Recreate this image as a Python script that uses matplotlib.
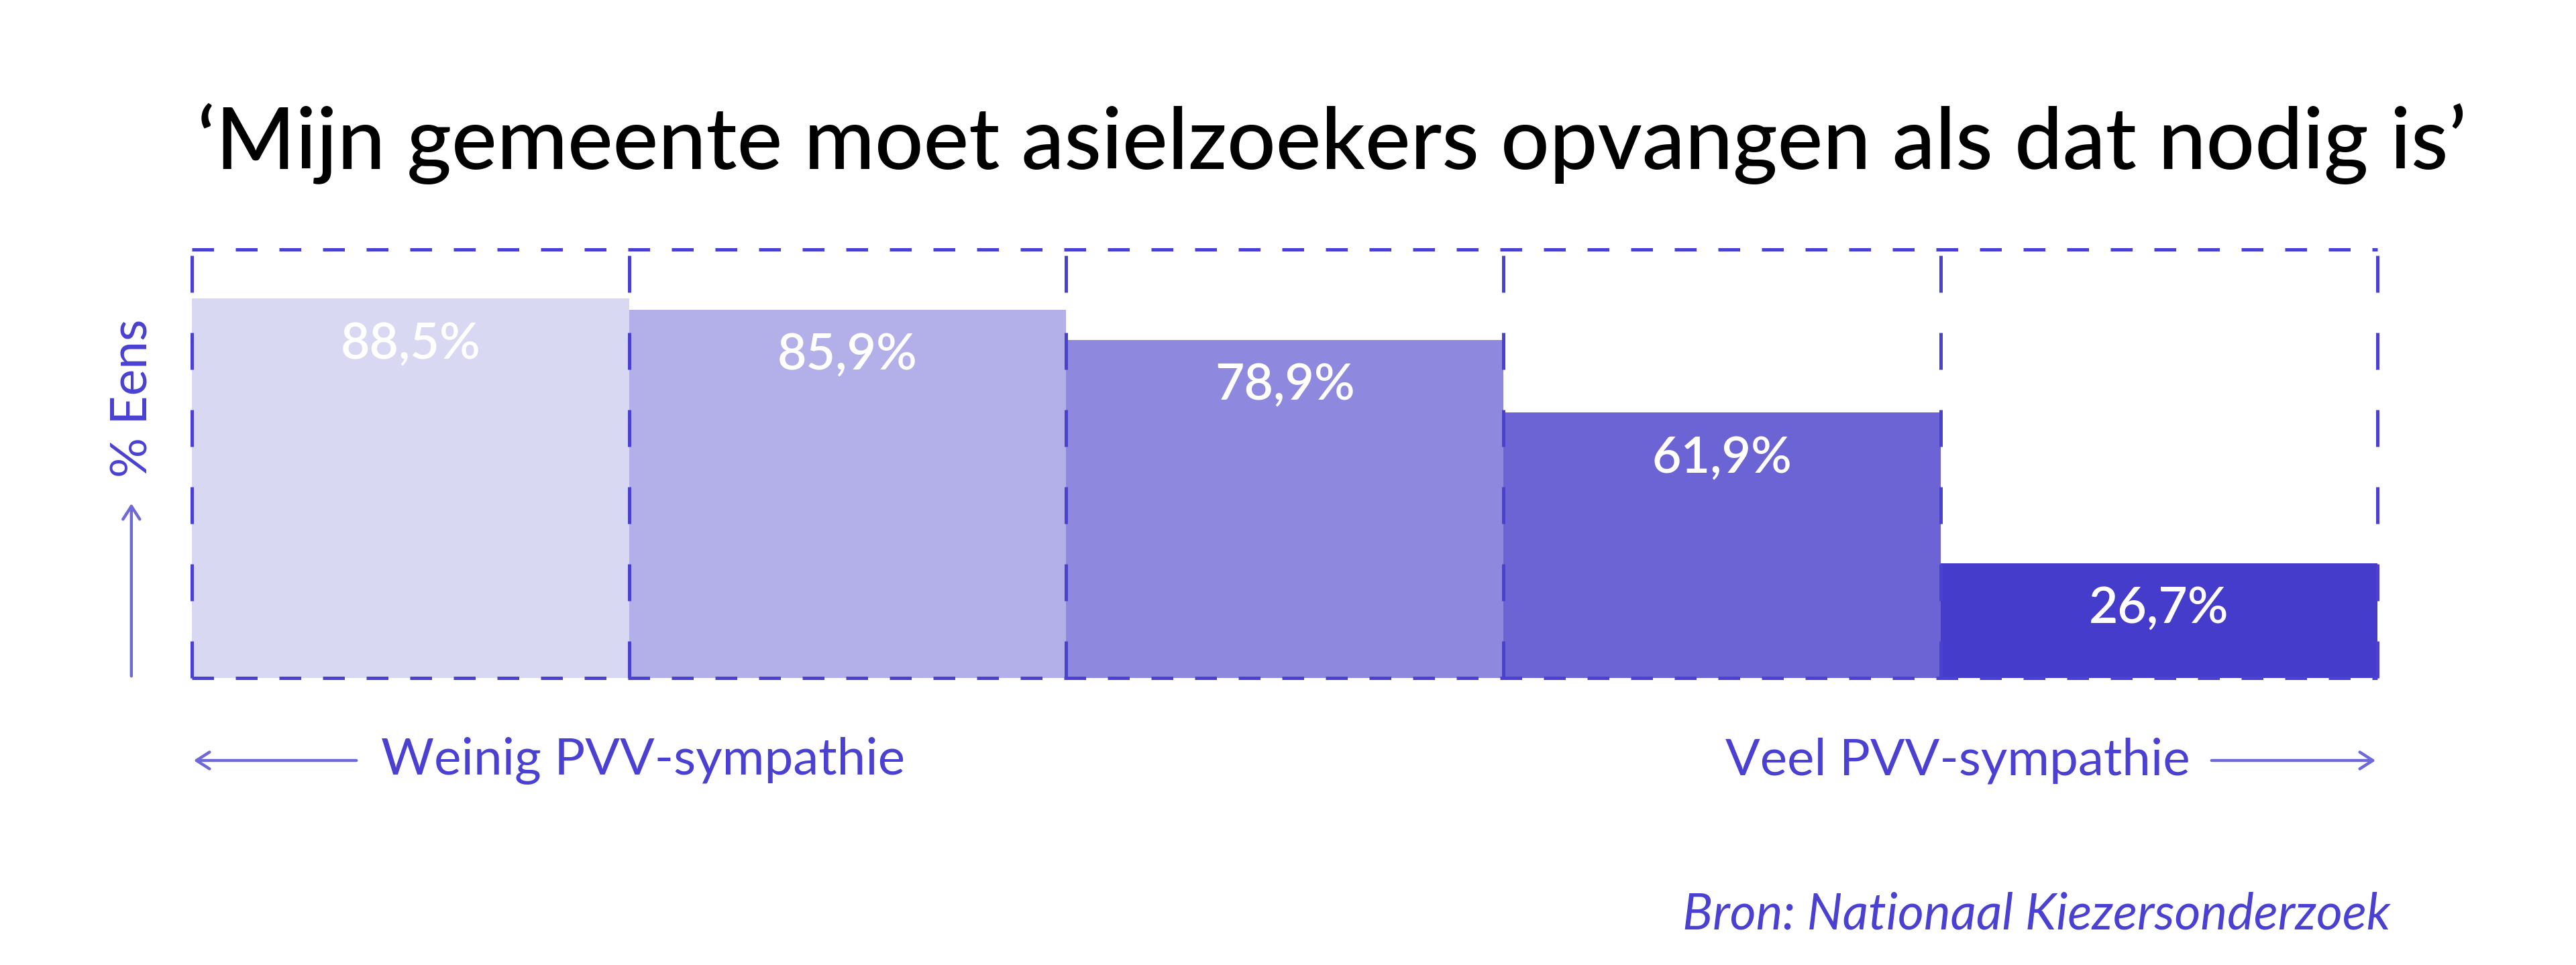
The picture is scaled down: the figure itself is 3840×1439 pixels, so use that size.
import matplotlib
matplotlib.use("Agg")
import matplotlib.pyplot as plt
from matplotlib.patches import FancyArrowPatch

# ---- data ----
categories = ["1", "2", "3", "4", "5"]
values = [88.5, 85.9, 78.9, 61.9, 26.7]
value_labels = ["88,5%", "85,9%", "78,9%", "61,9%", "26,7%"]
bar_colors = ["#D9D8F3", "#B3B0E9", "#8F88DF", "#6C64D5", "#463CCB"]
title = "‘Mijn gemeente moet asielzoekers opvangen als dat nodig is’"
ylabel = "% Eens"
left_label = "Weinig PVV-sympathie"
right_label = "Veel PVV-sympathie"
source = "Bron: Nationaal Kiezersonderzoek"

BLUE = "#4A40D2"
ARROW = "#6F68DA"
FONT = "Lato"

plt.rcParams['font.family'] = [FONT, 'DejaVu Sans']

fig = plt.figure(figsize=(38.4, 14.39), dpi=100)
ax = fig.add_axes([0.0745, 0.2974, 0.8485, 0.4441])

x = list(range(len(values)))
ax.bar(x, values, width=1.0, color=bar_colors, edgecolor='none', zorder=1)
ax.set_xlim(-0.5, len(values) - 0.5)
ax.set_ylim(0, 100)
ax.axis('off')

# dashed box and dividers
hdash = (0, (6.5, 6.5))
vdash = (0, (11, 12))
ax.plot([-0.5, len(values) - 0.5], [100, 100], color=BLUE, lw=3.6, ls=hdash, zorder=3, clip_on=False)
ax.plot([-0.5, len(values) - 0.5], [0, 0], color=BLUE, lw=3.6, ls=hdash, zorder=3, clip_on=False)
for b in [i - 0.5 for i in range(len(values) + 1)]:
    ax.plot([b, b], [0, 100], color=BLUE, lw=3.6, ls=vdash, zorder=3, clip_on=False)

# value labels
for xi, v, lab in zip(x, values, value_labels):
    ax.annotate(lab, xy=(xi, v), xytext=(0, -49), textcoords='offset points',
                ha='center', va='center', color='white', fontsize=54,
                fontweight='semibold')

# title
fig.text(0.517, 0.825, title, ha='center', va='baseline', fontsize=92,
         color='black', fontweight='medium')

# y label and arrow
fig.text(0.0515, 0.587, ylabel, rotation=90, ha='center', va='center',
         fontsize=54, color=BLUE)
fig.add_artist(FancyArrowPatch((0.051, 1 - 1011 / 1439), (0.051, 1 - 748 / 1439),
                               transform=fig.transFigure, arrowstyle='->,head_length=14,head_width=9',
                               color=ARROW, lw=3.2, mutation_scale=1))

# bottom labels with arrows
ylab = 1 - 1134 / 1439
fig.text(568 / 3840, ylab, left_label, ha='left', va='center', fontsize=55, color=BLUE)
fig.add_artist(FancyArrowPatch((534 / 3840, ylab), (286 / 3840, ylab),
                               transform=fig.transFigure, arrowstyle='->,head_length=14,head_width=9',
                               color=ARROW, lw=3.2, mutation_scale=1))
fig.text(3265 / 3840, ylab, right_label, ha='right', va='center', fontsize=55, color=BLUE)
fig.add_artist(FancyArrowPatch((3294 / 3840, ylab), (3544 / 3840, ylab),
                               transform=fig.transFigure, arrowstyle='->,head_length=14,head_width=9',
                               color=ARROW, lw=3.2, mutation_scale=1))

# source
fig.text(3563 / 3840, 1 - 1386 / 1439, source, ha='right', va='baseline',
         fontsize=54, color=BLUE, style='italic')

fig.savefig("out.png", dpi=100, facecolor='white')
